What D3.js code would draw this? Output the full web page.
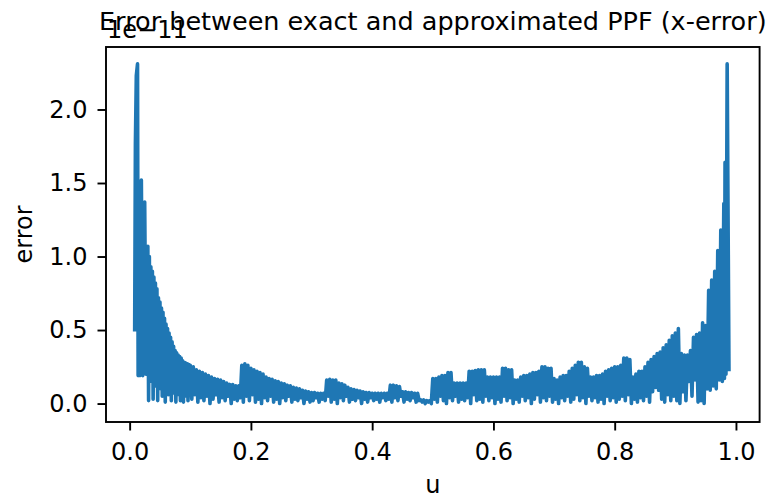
<!DOCTYPE html>
<html>
<head>
<meta charset="utf-8">
<script src="https://cdn.jsdelivr.net/npm/d3@7"></script>
<style>
  body { margin: 0; background: #fff; }
  text { font-family: "DejaVu Sans", sans-serif; }
</style>
</head>
<body>
<script>
var w = 772;
var h = 498;

// u positions
var uVals = [
    0.0083, 0.0095, 0.0110, 0.0130, 0.0140, 0.0155, 0.0170, 0.0193, 0.0215, 0.0248, 0.0270,
    0.03000, 0.03125, 0.03250, 0.03375, 0.03500, 0.03625, 0.03750, 0.03875,
    0.04000, 0.04125, 0.04250, 0.04375, 0.04500, 0.04625, 0.04750, 0.04875,
    0.05000, 0.05125, 0.05250, 0.05375, 0.05500, 0.05625, 0.05750, 0.05875,
    0.06000, 0.06125, 0.06250, 0.06375, 0.06500, 0.06625, 0.06750, 0.06875,
    0.07000, 0.07125, 0.07250, 0.07375, 0.07500, 0.07625, 0.07750, 0.07875,
    0.08000, 0.08125, 0.08250, 0.08375, 0.08500, 0.08625, 0.08750, 0.08875,
    0.09000, 0.09125, 0.09250, 0.09375, 0.09500, 0.09625, 0.09750, 0.09875,
    0.1000, 0.1025, 0.1050, 0.1075, 0.1100, 0.1125, 0.1150, 0.1175,
    0.1200, 0.1225, 0.1250, 0.1275, 0.1300, 0.1325, 0.1350, 0.1375,
    0.1400, 0.1425, 0.1450, 0.1475, 0.1500, 0.1525, 0.1550, 0.1575,
    0.1600, 0.1625, 0.1650, 0.1675, 0.1700, 0.1725, 0.1750, 0.1775,
    0.1800, 0.1825, 0.1850, 0.1875, 0.1900, 0.1925, 0.1950, 0.1975,
    0.2000, 0.2025, 0.2050, 0.2075, 0.2100, 0.2125, 0.2150, 0.2175,
    0.2200, 0.2225, 0.2250, 0.2275, 0.2300, 0.2325, 0.2350, 0.2375,
    0.2400, 0.2425, 0.2450, 0.2475, 0.2500, 0.2525, 0.2550, 0.2575,
    0.2600, 0.2625, 0.2650, 0.2675, 0.2700, 0.2725, 0.2750, 0.2775,
    0.2800, 0.2825, 0.2850, 0.2875, 0.2900, 0.2925, 0.2950, 0.2975,
    0.3000, 0.3025, 0.3050, 0.3075, 0.3100, 0.3125, 0.3150, 0.3175,
    0.3200, 0.3225, 0.3250, 0.3275, 0.3300, 0.3325, 0.3350, 0.3375,
    0.3400, 0.3425, 0.3450, 0.3475, 0.3500, 0.3525, 0.3550, 0.3575,
    0.3600, 0.3625, 0.3650, 0.3675, 0.3700, 0.3725, 0.3750, 0.3775,
    0.3800, 0.3825, 0.3850, 0.3875, 0.3900, 0.3925, 0.3950, 0.3975,
    0.4000, 0.4025, 0.4050, 0.4075, 0.4100, 0.4125, 0.4150, 0.4175,
    0.4200, 0.4225, 0.4250, 0.4275, 0.4300, 0.4325, 0.4350, 0.4375,
    0.4400, 0.4425, 0.4450, 0.4475, 0.4500, 0.4525, 0.4550, 0.4575,
    0.4600, 0.4625, 0.4650, 0.4675, 0.4700, 0.4725, 0.4750, 0.4775,
    0.4800, 0.4825, 0.4850, 0.4875, 0.4900, 0.4925, 0.4950, 0.4975,
    0.5000, 0.5025, 0.5050, 0.5075, 0.5100, 0.5125, 0.5150, 0.5175,
    0.5200, 0.5225, 0.5250, 0.5275, 0.5300, 0.5325, 0.5350, 0.5375,
    0.5400, 0.5425, 0.5450, 0.5475, 0.5500, 0.5525, 0.5550, 0.5575,
    0.5600, 0.5625, 0.5650, 0.5675, 0.5700, 0.5725, 0.5750, 0.5775,
    0.5800, 0.5825, 0.5850, 0.5875, 0.5900, 0.5925, 0.5950, 0.5975,
    0.6000, 0.6025, 0.6050, 0.6075, 0.6100, 0.6125, 0.6150, 0.6175,
    0.6200, 0.6225, 0.6250, 0.6275, 0.6300, 0.6325, 0.6350, 0.6375,
    0.6400, 0.6425, 0.6450, 0.6475, 0.6500, 0.6525, 0.6550, 0.6575,
    0.6600, 0.6625, 0.6650, 0.6675, 0.6700, 0.6725, 0.6750, 0.6775,
    0.6800, 0.6825, 0.6850, 0.6875, 0.6900, 0.6925, 0.6950, 0.6975,
    0.7000, 0.7025, 0.7050, 0.7075, 0.7100, 0.7125, 0.7150, 0.7175,
    0.7200, 0.7225, 0.7250, 0.7275, 0.7300, 0.7325, 0.7350, 0.7375,
    0.7400, 0.7425, 0.7450, 0.7475, 0.7500, 0.7525, 0.7550, 0.7575,
    0.7600, 0.7625, 0.7650, 0.7675, 0.7700, 0.7725, 0.7750, 0.7775,
    0.7800, 0.7825, 0.7850, 0.7875, 0.7900, 0.7925, 0.7950, 0.7975,
    0.8000, 0.8025, 0.8050, 0.8075, 0.8100, 0.8125, 0.8150, 0.8175,
    0.8200, 0.8225, 0.8250, 0.8275, 0.8300, 0.8325, 0.8350, 0.8375,
    0.8400, 0.8425, 0.8450, 0.8475, 0.8500, 0.8525, 0.8550, 0.8575,
    0.8600, 0.8625, 0.8650, 0.8675, 0.8700, 0.8725, 0.8750, 0.8775,
    0.8800, 0.8825, 0.8850, 0.8875, 0.8900, 0.8925, 0.8950, 0.8975,
    0.9000, 0.9025, 0.9050, 0.9075, 0.9100, 0.9125, 0.9150, 0.9175,
    0.9200, 0.9225, 0.9250, 0.9275, 0.9300, 0.9325, 0.9350, 0.9375,
    0.9400, 0.9425, 0.9450, 0.9475, 0.9500, 0.9525, 0.9550, 0.9575,
    0.9600, 0.9625, 0.9650, 0.9675, 0.9700, 0.9725, 0.9750, 0.9775,
    0.9800, 0.9810, 0.9820, 0.9835, 0.9855, 0.9885
];

// error values, in units of 1e-11
var errVals = [
    0.49, 1.77, 2.23, 2.31, 0.19, 1.27, 0.19, 1.52, 0.19, 1.37, 0.20,
    1.07, 0.02, 1.00, 0.18, 0.93, 0.15, 0.90, 0.03,
    0.86, 0.16, 0.82, 0.12, 0.78, 0.02, 0.72, 0.14,
    0.69, 0.10, 0.65, 0.05, 0.62, 0.12, 0.58, 0.01,
    0.54, 0.09, 0.51, 0.06, 0.48, 0.10, 0.45, 0.02,
    0.42, 0.07, 0.39, 0.09, 0.36, 0.01, 0.345, 0.06,
    0.33, 0.08, 0.32, 0.02, 0.31, 0.07, 0.29, 0.01,
    0.28, 0.05, 0.275, 0.08, 0.27, 0.02, 0.265, 0.06,
    0.26, 0.03, 0.25, 0.06, 0.23, 0.01, 0.22, 0.04,
    0.21, 0.02, 0.20, 0.05, 0.19, 0.00, 0.18, 0.03,
    0.17, 0.06, 0.165, 0.01, 0.16, 0.04, 0.15, 0.02,
    0.14, 0.05, 0.13, 0.00, 0.13, 0.03, 0.12, 0.02,
    0.12, 0.04, 0.26, 0.01, 0.27, 0.05, 0.26, 0.02,
    0.24, 0.06, 0.23, 0.01, 0.22, 0.03, 0.21, 0.00,
    0.20, 0.04, 0.18, 0.02, 0.17, 0.05, 0.165, 0.01,
    0.155, 0.03, 0.15, 0.00, 0.14, 0.04, 0.135, 0.02,
    0.125, 0.05, 0.12, 0.01, 0.11, 0.03, 0.105, 0.02,
    0.10, 0.04, 0.09, 0.00, 0.085, 0.03, 0.08, 0.01,
    0.075, 0.02, 0.075, 0.04, 0.07, 0.01, 0.07, 0.03,
    0.07, 0.02, 0.16, 0.05, 0.165, 0.01, 0.16, 0.03,
    0.16, 0.00, 0.14, 0.04, 0.135, 0.02, 0.125, 0.05,
    0.11, 0.01, 0.10, 0.03, 0.095, 0.02, 0.09, 0.04,
    0.085, 0.00, 0.08, 0.03, 0.075, 0.01, 0.075, 0.04,
    0.07, 0.02, 0.07, 0.03, 0.07, 0.01, 0.07, 0.04,
    0.07, 0.02, 0.07, 0.03, 0.125, 0.01, 0.125, 0.04,
    0.12, 0.02, 0.115, 0.05, 0.08, 0.01, 0.08, 0.03,
    0.075, 0.02, 0.075, 0.04, 0.07, 0.01, 0.07, 0.02,
    0.025, 0.01, 0.025, 0.00, 0.02, 0.01, 0.02, 0.00,
    0.17, 0.03, 0.17, 0.01, 0.18, 0.05, 0.19, 0.02,
    0.19, 0.00, 0.21, 0.04, 0.21, 0.02, 0.14, 0.05,
    0.14, 0.01, 0.14, 0.03, 0.14, 0.02, 0.14, 0.04,
    0.22, 0.00, 0.22, 0.06, 0.225, 0.02, 0.23, 0.03,
    0.23, 0.01, 0.23, 0.05, 0.18, 0.02, 0.18, 0.04,
    0.18, 0.00, 0.18, 0.03, 0.18, 0.01, 0.24, 0.05,
    0.24, 0.02, 0.23, 0.04, 0.23, 0.00, 0.16, 0.03,
    0.16, 0.01, 0.18, 0.05, 0.19, 0.02, 0.19, 0.04,
    0.20, 0.00, 0.21, 0.03, 0.21, 0.06, 0.22, 0.01,
    0.25, 0.04, 0.25, 0.02, 0.24, 0.05, 0.24, 0.01,
    0.17, 0.03, 0.16, 0.00, 0.18, 0.04, 0.19, 0.02,
    0.19, 0.05, 0.22, 0.01, 0.24, 0.03, 0.26, 0.06,
    0.28, 0.02, 0.28, 0.04, 0.25, 0.00, 0.24, 0.05,
    0.18, 0.02, 0.18, 0.04, 0.19, 0.01, 0.19, 0.03,
    0.20, 0.00, 0.22, 0.05, 0.23, 0.02, 0.24, 0.04,
    0.25, 0.01, 0.25, 0.03, 0.26, 0.05, 0.31, 0.02,
    0.31, 0.06, 0.30, 0.00, 0.18, 0.03, 0.20, 0.01,
    0.22, 0.04, 0.22, 0.02, 0.25, 0.05, 0.28, 0.01,
    0.30, 0.08, 0.32, 0.11, 0.34, 0.09, 0.35, 0.03,
    0.38, 0.01, 0.40, 0.06, 0.43, 0.02, 0.46, 0.05,
    0.48, 0.02, 0.51, 0.00, 0.34, 0.08, 0.33, 0.02,
    0.33, 0.15, 0.36, 0.05, 0.45, 0.16, 0.47, 0.01,
    0.48, 0.02, 0.55, 0.00, 0.53, 0.10, 0.77, 0.09,
    0.84, 0.12, 0.90, 0.10, 1.04, 0.16, 1.18, 0.15,
    1.36, 0.17, 1.64, 0.20, 2.31, 0.22
];

var xTicks = [0.0, 0.2, 0.4, 0.6, 0.8, 1.0];
var yTicks = [0.0, 0.5, 1.0, 1.5, 2.0];

var plotLeft = 106, plotRight = 759.6, plotTop = 47, plotBottom = 422;

var xScale = d3.scaleLinear()
    .domain([-0.039, 1.039])
    .range([plotLeft, plotRight]);

var yScale = d3.scaleLinear()
    .domain([-0.1255, 2.425])
    .range([plotBottom, plotTop]);

var svg = d3.select("body")
    .append("svg")
    .attr("width", w)
    .attr("height", h);

// the error curve
var line = d3.line()
    .x(function(d, i) { return xScale(uVals[i]); })
    .y(function(d) { return yScale(d); });

svg.append("path")
    .datum(errVals)
    .attr("d", line)
    .attr("fill", "none")
    .attr("stroke", "#1f77b4")
    .attr("stroke-width", 3.6)
    .attr("stroke-linejoin", "round");

// axes
var xAxis = d3.axisBottom(xScale)
    .tickValues(xTicks)
    .tickSize(8.5)
    .tickPadding(12)
    .tickFormat(d3.format(".1f"));

var yAxis = d3.axisLeft(yScale)
    .tickValues(yTicks)
    .tickSize(8.5)
    .tickPadding(10)
    .tickFormat(d3.format(".1f"));

var gx = svg.append("g")
    .attr("transform", "translate(0," + plotBottom + ")")
    .call(xAxis);

var gy = svg.append("g")
    .attr("transform", "translate(" + plotLeft + ",0)")
    .call(yAxis);

[gx, gy].forEach(function(g) {
    g.select(".domain").remove();
    g.selectAll("line").attr("stroke", "#000").attr("stroke-width", 1.9);
    g.selectAll("text")
        .attr("fill", "#000")
        .style("font-size", "24px")
        .style("font-family", "DejaVu Sans");
});

// frame
svg.append("rect")
    .attr("x", plotLeft)
    .attr("y", plotTop)
    .attr("width", plotRight - plotLeft)
    .attr("height", plotBottom - plotTop)
    .attr("fill", "none")
    .attr("stroke", "#000")
    .attr("stroke-width", 1.9);

// offset text
svg.append("text")
    .attr("x", plotLeft + 1)
    .attr("y", 38)
    .text("1e\u221211")
    .style("font-size", "24px");

// title
svg.append("text")
    .attr("text-anchor", "middle")
    .attr("x", (plotLeft + plotRight) / 2)
    .attr("y", 30)
    .text("Error between exact and approximated PPF (x-error)")
    .style("font-size", "25.5px");

// axis labels
svg.append("text")
    .attr("text-anchor", "middle")
    .attr("x", (plotLeft + plotRight) / 2)
    .attr("y", 493)
    .text("u")
    .style("font-size", "24px");

svg.append("text")
    .attr("text-anchor", "middle")
    .attr("transform", "rotate(-90)")
    .attr("x", -(plotTop + plotBottom) / 2)
    .attr("y", 32)
    .text("error")
    .style("font-size", "24px");
</script>
</body>
</html>
